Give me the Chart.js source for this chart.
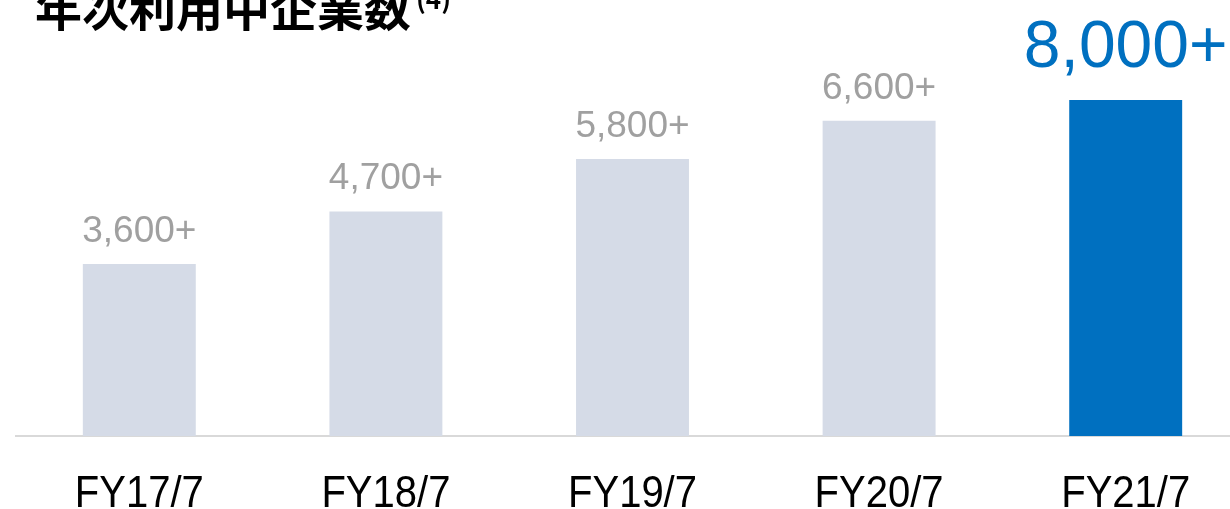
<!DOCTYPE html>
<html>
<head>
<meta charset="utf-8">
<script src="https://cdn.jsdelivr.net/npm/chart.js@4"></script>
<style>
  html, body { margin: 0; padding: 0; background: #fff; overflow: hidden; }
  #wrap { position: relative; width: 1230px; height: 509px; overflow: hidden; }
  #box { position: absolute; left: 0; top: 0; width: 1250px; height: 509px; }
  #title {
    position: absolute; left: 35px; top: -18px; margin: 0;
    font: bold 47px/1 "Noto Sans CJK JP", sans-serif; color: #000; white-space: nowrap;
  }
  #title span { font-size: 26px; position: relative; top: -17px; margin-left: 5px; }
</style>
</head>
<body>
<div id="wrap">
  <div id="box"><canvas id="c"></canvas></div>
  <h1 id="title">年次利用中企業数<span>(4)</span></h1>
</div>
<script>
// data (last bar is drawn shorter than its label says)
const categories = ['FY17/7', 'FY18/7', 'FY19/7', 'FY20/7', 'FY21/7'];
const companies = [3600, 4700, 5800, 6600, 7030];
const valueLabels = ['3,600+', '4,700+', '5,800+', '6,600+', '8,000+'];

const grey = '#D5DBE7';
const blue = '#0070C0';
const font = '"Liberation Sans", Arial, sans-serif';

// numbers over the bars + category names under the axis
const barLabels = {
  id: 'barLabels',
  afterDatasetsDraw(chart) {
    const { ctx } = chart;
    const meta = chart.getDatasetMeta(0);
    const xs = chart.scales.x;
    ctx.save();
    ctx.textAlign = 'center';
    ctx.textBaseline = 'alphabetic';
    meta.data.forEach((bar, i) => {
      const last = i === meta.data.length - 1;
      ctx.fillStyle = last ? blue : '#A0A0A0';
      ctx.font = (last ? '66px ' : '37px ') + font;
      ctx.fillText(valueLabels[i], bar.x, bar.y - (last ? 33 : 22));
    });
    // axis labels, a bit taller than the stock font
    ctx.fillStyle = '#000';
    ctx.font = '40px ' + font;
    categories.forEach((c, i) => {
      ctx.save();
      ctx.translate(xs.getPixelForTick(i), 507);
      ctx.scale(1, 1.1);
      ctx.fillText(c, 0, 0);
      ctx.restore();
    });
    ctx.restore();
  }
};

new Chart(document.getElementById('c'), {
  type: 'bar',
  data: {
    labels: categories,
    datasets: [{
      data: companies,
      backgroundColor: companies.map((v, i) => i === companies.length - 1 ? blue : grey),
      barPercentage: 0.458,
      categoryPercentage: 1
    }]
  },
  options: {
    responsive: true,
    maintainAspectRatio: false,
    animation: false,
    layout: { padding: { left: 16, right: 1, top: 6, bottom: 73 } },
    plugins: { legend: { display: false }, tooltip: { enabled: false } },
    scales: {
      y: { display: false, min: 0, max: 9000 },
      x: {
        grid: { display: false, drawTicks: false },
        border: { display: true, color: '#D9D9D9', width: 2 },
        ticks: { display: false }
      }
    }
  },
  plugins: [barLabels]
});
</script>
</body>
</html>
